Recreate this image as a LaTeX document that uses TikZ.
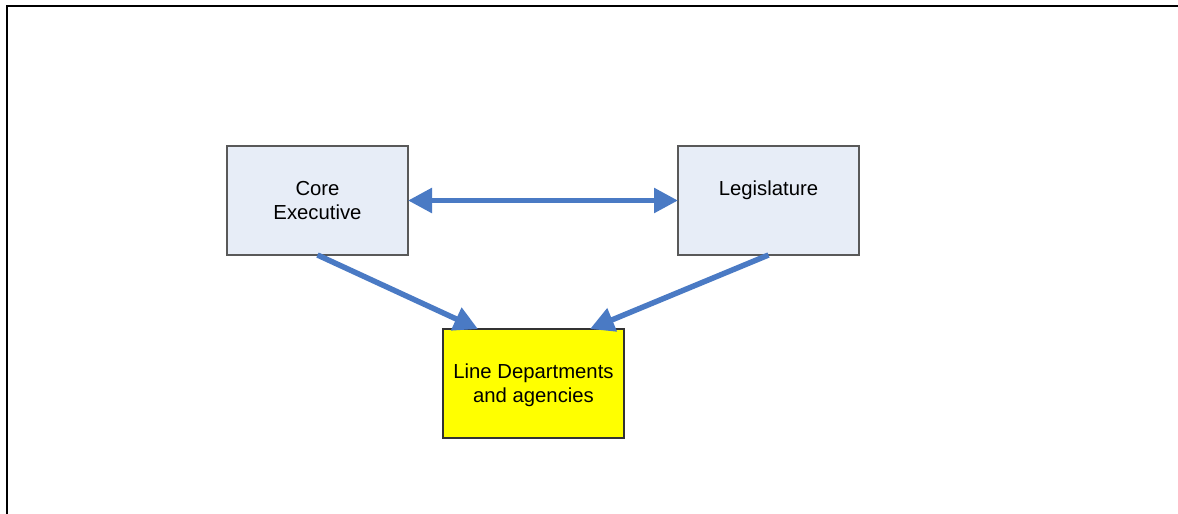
\documentclass[tikz,border=0pt]{standalone}
\usepackage{fontspec}
\setmainfont{Liberation Sans}
\usetikzlibrary{positioning,arrows.meta}
\definecolor{arrowblue}{RGB}{74,122,196}
\definecolor{boxblue}{RGB}{231,237,247}
\definecolor{boxyellow}{RGB}{255,255,0}

\begin{document}
\begin{tikzpicture}[x=1pt,y=1pt,
        main/.style = {draw=black!65, line width=1.2pt, fill=boxblue, minimum width=181pt, minimum height=109pt, inner sep=0pt, outer sep=0pt, align=center, font=\fontsize{20.3}{24}\selectfont},
        link/.style = {draw=arrowblue, line width=5.5pt, -{Triangle[length=24pt,width=24pt]}}]
        \useasboundingbox (0,0) rectangle (1178,-514);
        \draw[line width=2pt] (7,-6) rectangle (1200,-540);
        \node[main] (core) at (317.5,-200.5) {Core\\Executive};
        \node[main] (leg) [right=270pt of core] {Legislature\\\mbox{}};
        \node[main, fill=boxyellow, draw=black!80, text depth=-6pt] (line) [below right=74pt and 35pt of core] {Line Departments\\and agencies};
        \draw[link, {Triangle[length=24pt,width=24pt]}-{Triangle[length=24pt,width=24pt]}] (core) -- (leg);
        \draw[link] (core.south) -- ([xshift=35pt]line.north west);
        \draw[link] (leg.south) -- ([xshift=-34pt]line.north east);
        \end{tikzpicture}
\end{document}
